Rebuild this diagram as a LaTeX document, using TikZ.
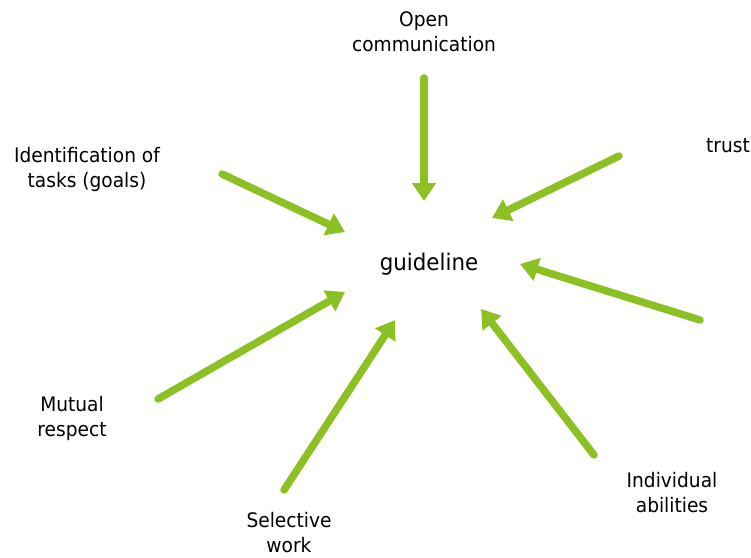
\documentclass[tikz,border=0pt]{standalone}
\usepackage{fontspec}
\setmainfont{DejaVu Sans}[FakeStretch=0.93]
\usetikzlibrary{arrows.meta}
\definecolor{leaf}{RGB}{140,193,36}
\begin{document}
\begin{tikzpicture}[x=1pt,y=-1pt,
  lbl/.style={align=center,inner sep=0pt,font=\fontsize{20}{25}\selectfont,text=black},
  feed/.style={draw=leaf,line width=7.5pt,line cap=round,
    -{Triangle[width=23pt,length=18pt]}}]
\useasboundingbox (0,0) rectangle (751,557);
\node[lbl] (open) at (424,32) {Open\\communication};
\node[lbl] (ident) at (87,169) {Identification of\\tasks (goals)};
\node[lbl] (trust) at (728,146) {trust};
\node[lbl,font=\fontsize{23}{26}\selectfont] (guide) at (429,264) {guideline};
\node[lbl] (mutual) at (72,418) {Mutual\\respect};
\node[lbl] (select) at (289,533) {Selective\\work};
\node[lbl] (indiv) at (672,493) {Individual\\abilities};
\coordinate (t1) at (424,78);  \coordinate (h1) at (424,201);
\coordinate (t2) at (222,174); \coordinate (h2) at (345,232);
\coordinate (t3) at (619,156); \coordinate (h3) at (492,218);
\coordinate (t4) at (700,320); \coordinate (h4) at (520,264);
\coordinate (t5) at (158,399); \coordinate (h5) at (345,292);
\coordinate (t6) at (284,490); \coordinate (h6) at (395,320);
\coordinate (t7) at (594,455); \coordinate (h7) at (481,309);
\foreach \i in {1,...,7} \draw[feed] (t\i) -- (h\i);
\end{tikzpicture}
\end{document}
